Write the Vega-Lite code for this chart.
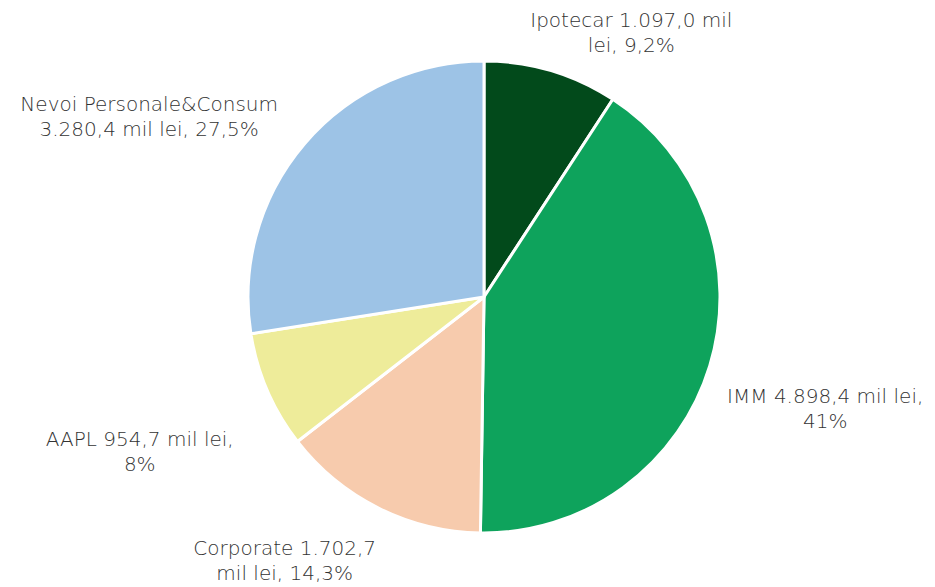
{
  "$schema": "https://vega.github.io/schema/vega-lite/v6.json",
  "width": 902,
  "height": 580,
  "autosize": "none",
  "padding": {"left": 33, "top": 7, "right": 0, "bottom": 0},
  "background": "white",
  "config": {"view": {"stroke": null}, "text": {"font": "DejaVu Sans", "fontSize": 20, "fontWeight": 200, "color": "#333333", "align": "center", "baseline": "middle", "lineHeight": 25, "lineBreak": "\n"}},
  "data": {
    "values": [
      {"k": 1, "cat": "Ipotecar", "value": 1097.0, "label": "Ipotecar 1.097,0 mil\nlei, 9,2%"},
      {"k": 2, "cat": "IMM", "value": 4898.4, "label": "IMM 4.898,4 mil lei,\n41%"},
      {"k": 3, "cat": "Corporate", "value": 1702.7, "label": "Corporate 1.702,7\nmil lei, 14,3%"},
      {"k": 4, "cat": "AAPL", "value": 954.7, "label": "AAPL 954,7 mil lei,\n8%"},
      {"k": 5, "cat": "Nevoi Personale&Consum", "value": 3280.4, "label": "Nevoi Personale&Consum\n3.280,4 mil lei, 27,5%"}
    ]
  },
  "encoding": {
    "theta": {"field": "value", "type": "quantitative", "stack": true},
    "order": {"field": "k", "type": "quantitative"}
  },
  "layer": [
    {
      "mark": {"type": "arc", "outerRadius": 236, "stroke": "white", "strokeWidth": 3},
      "encoding": {
        "color": {
          "field": "cat", "type": "nominal", "legend": null,
          "scale": {
            "domain": ["Ipotecar", "IMM", "Corporate", "AAPL", "Nevoi Personale&Consum"],
            "range": ["#024a1b", "#0ea35c", "#f7cbad", "#eeec9a", "#9dc3e6"]
          }
        }
      }
    },
    {
      "mark": {"type": "text", "radius": 275, "dx": 69, "dy": -12.5},
      "encoding": {"text": {"condition": {"test": "datum.cat === 'Ipotecar'", "field": "label"}, "value": ""}}
    },
    {
      "mark": {"type": "text", "radius": 362, "dx": -5, "dy": -5.5},
      "encoding": {"text": {"condition": {"test": "datum.cat === 'IMM'", "field": "label"}, "value": ""}}
    },
    {
      "mark": {"type": "text", "radius": 296, "dx": -67, "dy": -12.5},
      "encoding": {"text": {"condition": {"test": "datum.cat === 'Corporate'", "field": "label"}, "value": ""}}
    },
    {
      "mark": {"type": "text", "radius": 375, "dx": 0, "dy": -5.5},
      "encoding": {"text": {"condition": {"test": "datum.cat === 'AAPL'", "field": "label"}, "value": ""}}
    },
    {
      "mark": {"type": "text", "radius": 276, "dx": -125, "dy": -12.5},
      "encoding": {"text": {"condition": {"test": "datum.cat === 'Nevoi Personale&Consum'", "field": "label"}, "value": ""}}
    }
  ]
}
